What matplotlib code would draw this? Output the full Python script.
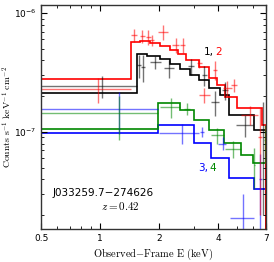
import numpy as np
import matplotlib
matplotlib.use('Agg')
import matplotlib.pyplot as plt
from matplotlib.ticker import FixedLocator, LogLocator, NullFormatter, FixedFormatter

#==================data (flux in units of 1e-7)=======================
# step models: bin edges (keV) and levels
red_edges = [0.5, 1.44, 1.60, 1.80, 2.02, 2.27, 2.50, 2.75, 3.2, 3.6, 3.95, 4.34, 5.0, 6.71, 7.0]
red_model = [2.79, 5.70, 5.82, 5.60, 5.28, 4.89, 4.52, 4.03, 3.52, 2.84, 2.48, 1.97, 1.59, 1.15]

blk_edges = [0.5, 1.545, 1.74, 2.02, 2.27, 2.56, 2.88, 3.2, 3.6, 4.09, 4.55, 6.1, 7.0]
blk_model = [2.13, 4.52, 4.35, 4.10, 3.72, 3.38, 3.01, 2.74, 2.34, 2.04, 1.39, 1.04]

grn_edges = [0.5, 1.98, 2.56, 3.02, 3.6, 4.29, 5.24, 6.04, 7.0]
grn_model = [1.06, 1.75, 1.53, 1.26, 1.04, 0.81, 0.64, 0.55]

blu_edges = [0.5, 1.98, 3.02, 3.68, 4.55, 6.1, 7.0]
blu_model = [0.98, 1.15, 0.81, 0.60, 0.41, 0.33]

# data points: energy, half width, flux, flux error
red_E = [0.97, 1.49, 1.64, 1.76, 1.84, 2.10, 2.42, 2.63, 3.20, 3.40, 3.85, 4.45, 4.80, 5.80, 6.55]
red_dE = [0.47, 0.05, 0.05, 0.05, 0.05, 0.12, 0.10, 0.08, 0.10, 0.22, 0.10, 0.25, 0.15, 0.60, 0.15]
red_F = [2.30, 6.53, 6.41, 6.29, 5.93, 6.92, 5.38, 5.38, 3.80, 2.04, 3.32, 2.34, 2.48, 1.39, 0.90]
red_dF = [0.55, 0.80, 0.80, 0.90, 0.60, 1.00, 0.80, 0.80, 0.35, 0.30, 0.60, 0.35, 0.30, 0.25, 0.70]

blk_E = [1.02, 1.58, 1.65, 1.91, 2.25, 2.90, 3.39, 3.85, 4.34, 5.49, 6.78]
blk_dE = [0.52, 0.04, 0.04, 0.12, 0.13, 0.10, 0.10, 0.18, 0.15, 0.55, 0.05]
blk_F = [2.43, 3.66, 3.52, 3.87, 3.45, 3.59, 3.01, 1.79, 2.25, 1.15, 1.00]
blk_dF = [0.50, 0.80, 0.90, 0.50, 0.60, 0.55, 0.55, 0.42, 0.40, 0.25, 0.80]

blu_E = [1.24, 2.60, 3.30, 4.20, 5.33, 6.55]
blu_dE = [0.74, 0.60, 0.08, 0.20, 0.77, 0.10]
blu_F = [1.56, 0.98, 1.00, 0.80, 0.19, 0.40]
blu_dF = [0.60, 0.18, 0.10, 0.10, 0.11, 0.25]

grn_E = [1.24, 2.29, 2.78, 3.95, 4.75, 6.10, 6.90]
grn_dE = [0.74, 0.27, 0.10, 0.30, 0.45, 0.05, 0.05]
grn_F = [1.44, 1.62, 1.56, 0.94, 0.72, 0.53, 0.85]
grn_dF = [0.58, 0.30, 0.18, 0.14, 0.12, 0.20, 0.30]

units = 1e-7
#=====================================================================

fig = plt.figure(figsize=(2.74, 2.62), dpi=100)
ax = fig.add_axes([0.150, 0.126, 0.821, 0.855])

def draw_set(edges, model, E, dE, F, dF, col):
    ax.errorbar(E, np.array(F) * units, xerr=dE, yerr=np.array(dF) * units,
                fmt='none', ecolor=col, elinewidth=1.0, alpha=0.55, capsize=0)
    ax.stairs(np.array(model) * units, edges, color=col, lw=1.2)

draw_set(blu_edges, blu_model, blu_E, blu_dE, blu_F, blu_dF, '#0000ff')
draw_set(grn_edges, grn_model, grn_E, grn_dE, grn_F, grn_dF, '#008800')
draw_set(blk_edges, blk_model, blk_E, blk_dE, blk_F, blk_dF, 'black')
draw_set(red_edges, red_model, red_E, red_dE, red_F, red_dF, '#ff0000')

ax.set_xscale('log')
ax.set_yscale('log')
ax.set_xlim(0.5, 7.0)
ax.set_ylim(1.53e-8, 1.17e-6)

ax.xaxis.set_major_locator(FixedLocator([0.5, 1, 2, 4, 7]))
ax.xaxis.set_major_formatter(FixedFormatter(['0.5', '1', '2', '4', '7']))
ax.xaxis.set_minor_locator(LogLocator(subs=np.arange(1, 10)))
ax.xaxis.set_minor_formatter(NullFormatter())
ax.yaxis.set_minor_formatter(NullFormatter())
ax.tick_params(which='both', direction='in', top=True, right=True, labelsize=6.5)
ax.tick_params(which='major', length=4, width=0.8)
ax.tick_params(which='minor', length=2, width=0.6)
for s in ax.spines.values():
    s.set_linewidth(1.0)
    s.set_color('#333333')

ax.set_xlabel(r'$\mathrm{Observed{-}Frame\ E\ (keV)}$', fontsize=7.5,
              math_fontfamily='cm', labelpad=3)
ax.set_ylabel(r'$\mathrm{Counts\ s^{-1}\ keV^{-1}\ cm^{-2}}$', fontsize=7,
              math_fontfamily='cm', labelpad=0)

ax.text(1.04, 3.07e-8, 'J033259.7\u2212274626', fontsize=7.5, ha='center', va='center')
ax.text(1.6, 2.39e-8, r'$z=0.42$', fontsize=8, ha='right', va='center', math_fontfamily='cm')

ax.annotate('1,', (3.38, 4.7e-7), fontsize=7.5, color='black', va='center')
ax.annotate('2', (3.38, 4.7e-7), xytext=(8, 0), textcoords='offset points',
            fontsize=7.5, color='#ff0000', va='center')
ax.annotate('3,', (3.15, 5.0e-8), fontsize=7.5, color='#0000ff', va='center')
ax.annotate('4', (3.15, 5.0e-8), xytext=(8, 0), textcoords='offset points',
            fontsize=7.5, color='#008800', va='center')

plt.savefig('out.png', dpi=100)
